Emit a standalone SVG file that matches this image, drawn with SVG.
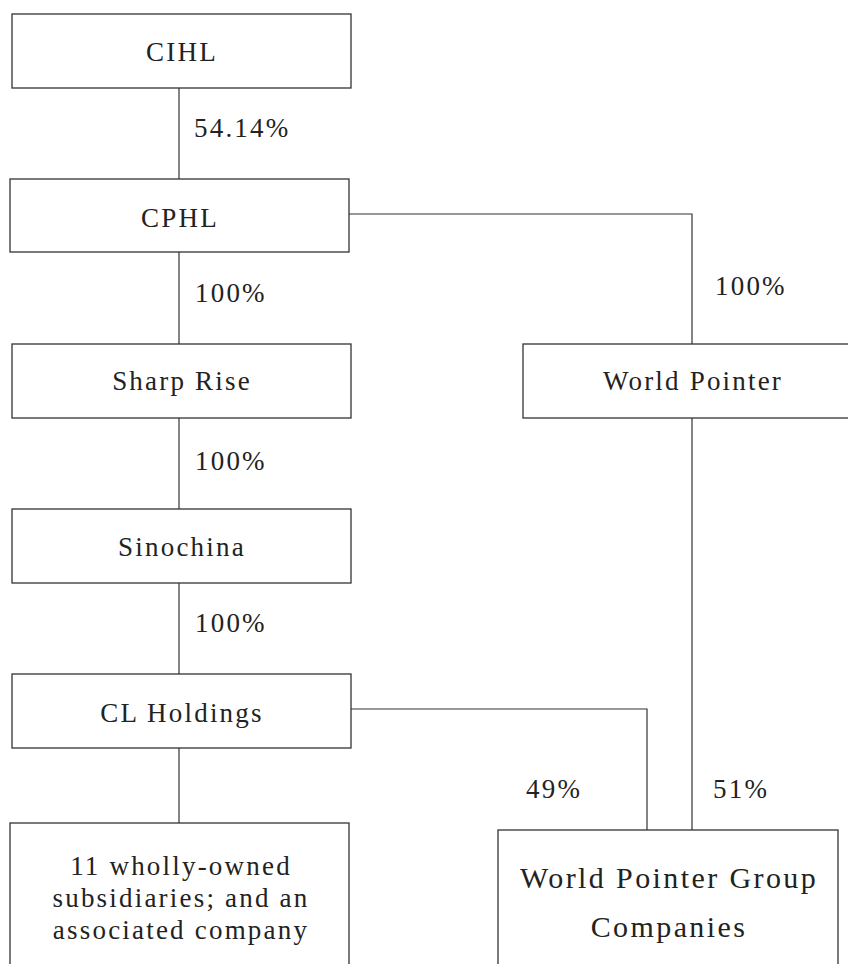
<svg xmlns="http://www.w3.org/2000/svg" width="848" height="964" viewBox="0 0 848 964">
<style>
.box{fill:#fff;stroke:#333;stroke-width:1.3}
.ln{fill:none;stroke:#333;stroke-width:1.2}
text{font-family:"Liberation Serif","Times New Roman",serif;fill:#222;font-size:27px;letter-spacing:2.2px}
.c{text-anchor:middle}
.big{font-size:30px;letter-spacing:2.4px}
</style>
<rect width="848" height="964" fill="#fff"/>
<g id="connectors">
<path class="ln" d="M179 88V179"/>
<path class="ln" d="M179 252V344"/>
<path class="ln" d="M349 214H692V344"/>
<path class="ln" d="M179 418V509"/>
<path class="ln" d="M179 583V674"/>
<path class="ln" d="M179 748V823"/>
<path class="ln" d="M692 418V830"/>
<path class="ln" d="M351 709H647V830"/>
<text x="194" y="137">54.14%</text>
<text x="195" y="302">100%</text>
<text x="715" y="295">100%</text>
<text x="195" y="470">100%</text>
<text x="195" y="632">100%</text>
<text x="526" y="798">49%</text>
<text x="713" y="798">51%</text>
</g>
<g id="cihl"><rect class="box" x="12" y="14" width="339" height="74"/><text class="c" x="182" y="61">CIHL</text></g>
<g id="cphl"><rect class="box" x="10" y="179" width="339" height="73"/><text class="c" x="180" y="227">CPHL</text></g>
<g id="sharp-rise"><rect class="box" x="12" y="344" width="339" height="74"/><text class="c" x="182" y="390">Sharp Rise</text></g>
<g id="world-pointer"><rect class="box" x="523" y="344" width="339" height="74"/><text class="c" x="693" y="390">World Pointer</text></g>
<g id="sinochina"><rect class="box" x="12" y="509" width="339" height="74"/><text class="c" x="182" y="556">Sinochina</text></g>
<g id="cl-holdings"><rect class="box" x="12" y="674" width="339" height="74"/><text class="c" x="182" y="722">CL Holdings</text></g>
<g id="subsidiaries"><rect class="box" x="10" y="823" width="339" height="160"/>
<text class="c" x="181" y="875">11 wholly-owned</text>
<text class="c" x="181" y="907">subsidiaries; and an</text>
<text class="c" x="181" y="939">associated company</text></g>
<g id="wp-group"><rect class="box" x="498" y="830" width="340" height="160"/>
<text class="c big" x="669" y="888">World Pointer Group</text>
<text class="c big" x="669" y="937">Companies</text></g>
</svg>
